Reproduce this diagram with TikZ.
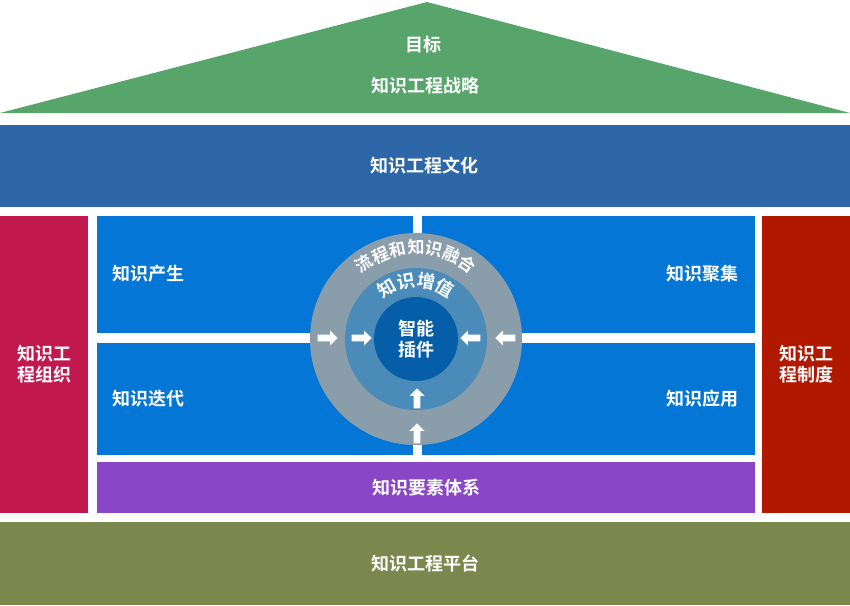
\documentclass[tikz,border=0pt]{standalone}
\usepackage{fontspec}
\newfontfamily\cjk{Noto Sans CJK SC}[BoldFont={Noto Sans CJK SC Bold}]
\usetikzlibrary{decorations.text,shapes.arrows}
\definecolor{roof}{RGB}{88,165,108}
\definecolor{cult}{RGB}{46,103,168}
\definecolor{lcol}{RGB}{194,24,80}
\definecolor{rcol}{RGB}{176,24,0}
\definecolor{quad}{RGB}{3,118,214}
\definecolor{purp}{RGB}{137,71,200}
\definecolor{base}{RGB}{122,136,78}
\definecolor{ring1}{RGB}{137,158,170}
\definecolor{ring2}{RGB}{74,139,186}
\definecolor{ring3}{RGB}{6,94,168}
\begin{document}
\begin{tikzpicture}[x=1pt,y=-1pt,
  lab/.style={text=white,font=\cjk\bfseries\fontsize{18}{21}\selectfont,align=center},
  arr/.style={single arrow,fill=white,draw=none,minimum height=20,minimum width=15,single arrow head extend=2,inner sep=1.5}]
\useasboundingbox (0,0) rectangle (850,605);
\fill[roof] (427,2) -- (850,113) -- (0,113) -- cycle;
\node[lab] (goal) at (423,45) {目标};
\node[lab] (strat) at (425,86) {知识工程战略};
\fill[cult] (0,125) rectangle (850,207);
\node[lab] (cul) at (424,166) {知识工程文化};
\fill[lcol] (0,216) rectangle (88,513);
\node[lab] (org) at (44,364) {知识工\\程组织};
\fill[rcol] (762,216) rectangle (850,513);
\node[lab] (sys) at (806,364) {知识工\\程制度};
\fill[quad] (97,216) rectangle (413,333);
\fill[quad] (422,216) rectangle (755,333);
\fill[quad] (97,343) rectangle (413,455);
\fill[quad] (422,343) rectangle (755,455);
\node[lab,anchor=west] (q1) at (109,274) {知识产生};
\node[lab,anchor=east] (q2) at (742,274) {知识聚集};
\node[lab,anchor=west] (q3) at (109,399) {知识迭代};
\node[lab,anchor=east] (q4) at (742,399) {知识应用};
\fill[purp] (97,462) rectangle (755,513);
\node[lab] (elem) at (426,488) {知识要素体系};
\fill[base] (0,522) rectangle (850,605);
\node[lab] (plat) at (425,563) {知识工程平台};
\coordinate (c) at (416,339);
\fill[ring1] (c) circle[radius=106];
\fill[ring2] (c) circle[radius=71];
\fill[ring3] (c) circle[radius=42];
\node[lab] (core) at (c) {智能\\插件};
\path[decorate,decoration={text along path,text align=center,
  text={|\cjk\bfseries\fontsize{17}{19}\selectfont\color{white}|流程和知识融合}}]
  (c) ++(-165:85) arc[start angle=-165,end angle=-15,radius=85];
\path[decorate,decoration={text along path,text align=center,
  text={|\cjk\bfseries\fontsize{18}{19}\selectfont\color{white}|知识增值}}]
  (c) ++(-145:52) arc[start angle=-145,end angle=-35,radius=52];
\node[arr] (a1) at (326,338) {};
\node[arr] (a2) at (360,338) {};
\node[arr,shape border rotate=180] (a3) at (472,338) {};
\node[arr,shape border rotate=180] (a4) at (507,338) {};
\node[arr,shape border rotate=90] (a5) at (417,400) {};
\node[arr,shape border rotate=90] (a6) at (417,435) {};
\end{tikzpicture}
\end{document}
